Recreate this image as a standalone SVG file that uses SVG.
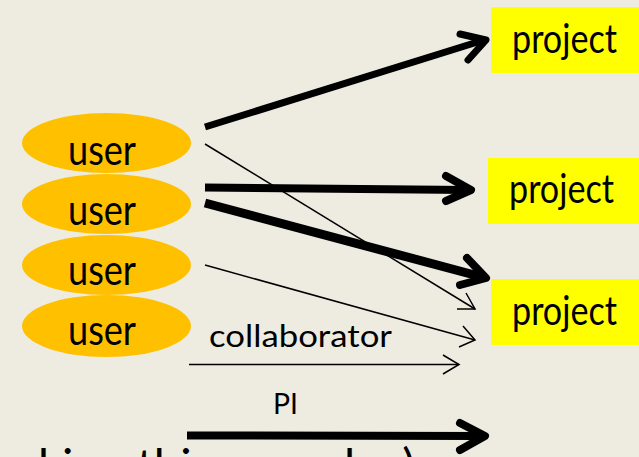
<svg xmlns="http://www.w3.org/2000/svg" width="639" height="457" viewBox="0 0 639 457">
  <style>
    .user { fill: #FFC000; }
    .proj { fill: #FFFF00; }
    .lbl { font-family: Lato, "Liberation Sans", Arial, sans-serif; fill: #000; }
    .thick { fill: none; stroke: #000; stroke-linecap: butt; }
    .head { fill: none; stroke: #000; stroke-linecap: round; stroke-linejoin: round; }
    .thin { fill: none; stroke: #000; stroke-width: 1.5; stroke-linecap: butt; stroke-linejoin: miter; }
  </style>
  <rect x="0" y="0" width="639" height="457" fill="#EEECE1"/>

  <g id="user1">
    <ellipse class="user" cx="106.5" cy="143" rx="84.5" ry="30"/>
    <text class="lbl" x="68" y="165" font-size="42" textLength="68" lengthAdjust="spacingAndGlyphs">user</text>
  </g>
  <g id="user2">
    <ellipse class="user" cx="106.5" cy="204" rx="84.5" ry="30"/>
    <text class="lbl" x="68" y="225" font-size="42" textLength="68" lengthAdjust="spacingAndGlyphs">user</text>
  </g>
  <g id="user3">
    <ellipse class="user" cx="106.5" cy="265" rx="84.5" ry="30"/>
    <text class="lbl" x="68" y="285" font-size="42" textLength="68" lengthAdjust="spacingAndGlyphs">user</text>
  </g>
  <g id="user4">
    <ellipse class="user" cx="106.5" cy="326" rx="84.5" ry="31"/>
    <text class="lbl" x="68" y="345" font-size="42" textLength="68" lengthAdjust="spacingAndGlyphs">user</text>
  </g>

  <g id="project1">
    <rect class="proj" x="491" y="7" width="148" height="66"/>
    <text class="lbl" x="512" y="53" font-size="40" textLength="105" lengthAdjust="spacingAndGlyphs">project</text>
  </g>
  <g id="project2">
    <rect class="proj" x="488" y="158" width="151" height="66"/>
    <text class="lbl" x="509" y="203" font-size="40" textLength="105" lengthAdjust="spacingAndGlyphs">project</text>
  </g>
  <g id="project3">
    <rect class="proj" x="491" y="279" width="148" height="66"/>
    <text class="lbl" x="512" y="325" font-size="40" textLength="105" lengthAdjust="spacingAndGlyphs">project</text>
  </g>

  <g id="connectors">
    <!-- user1 -> project1 (thick) -->
    <path class="thick" stroke-width="7" d="M205,127 L484,40"/>
    <path class="head" stroke-width="7" d="M460,34 L486,40 L468,60"/>
    <!-- user2 -> project2 (thick) -->
    <path class="thick" stroke-width="8" d="M205,187.5 L468,190"/>
    <path class="head" stroke-width="8" d="M446,176 L471,190 L446,201"/>
    <!-- user2 -> project3 (thick) -->
    <path class="thick" stroke-width="9" d="M205,203 L482,277"/>
    <path class="head" stroke-width="8" d="M467,258 L486,278 L460,285"/>
    <!-- user1 -> project3 (thin) -->
    <path class="thin" d="M205,144 L475,309"/>
    <path class="thin" d="M466,293 L475,309 L457,309"/>
    <!-- user3 -> project3 (thin) -->
    <path class="thin" d="M205,265 L475,340"/>
    <path class="thin" d="M463,326 L475,340 L459,347"/>
    <!-- legend: collaborator -->
    <path class="thin" d="M189,364.5 L459,364.5"/>
    <path class="thin" d="M443,355 L459,364.5 L443,374"/>
    <text class="lbl" x="209" y="347" font-size="31" textLength="183" lengthAdjust="spacingAndGlyphs">collaborator</text>
    <!-- legend: PI -->
    <path class="thick" stroke-width="8" d="M187,435.5 L482,436"/>
    <path class="head" stroke-width="8" d="M460,423 L485,436 L460,450"/>
    <text class="lbl" x="273" y="414" font-size="29" textLength="25" lengthAdjust="spacingAndGlyphs">PI</text>
  </g>

  <text class="lbl" x="-37" y="482" font-size="46" textLength="452" lengthAdjust="spacingAndGlyphs">(making this more lax)</text>
</svg>
